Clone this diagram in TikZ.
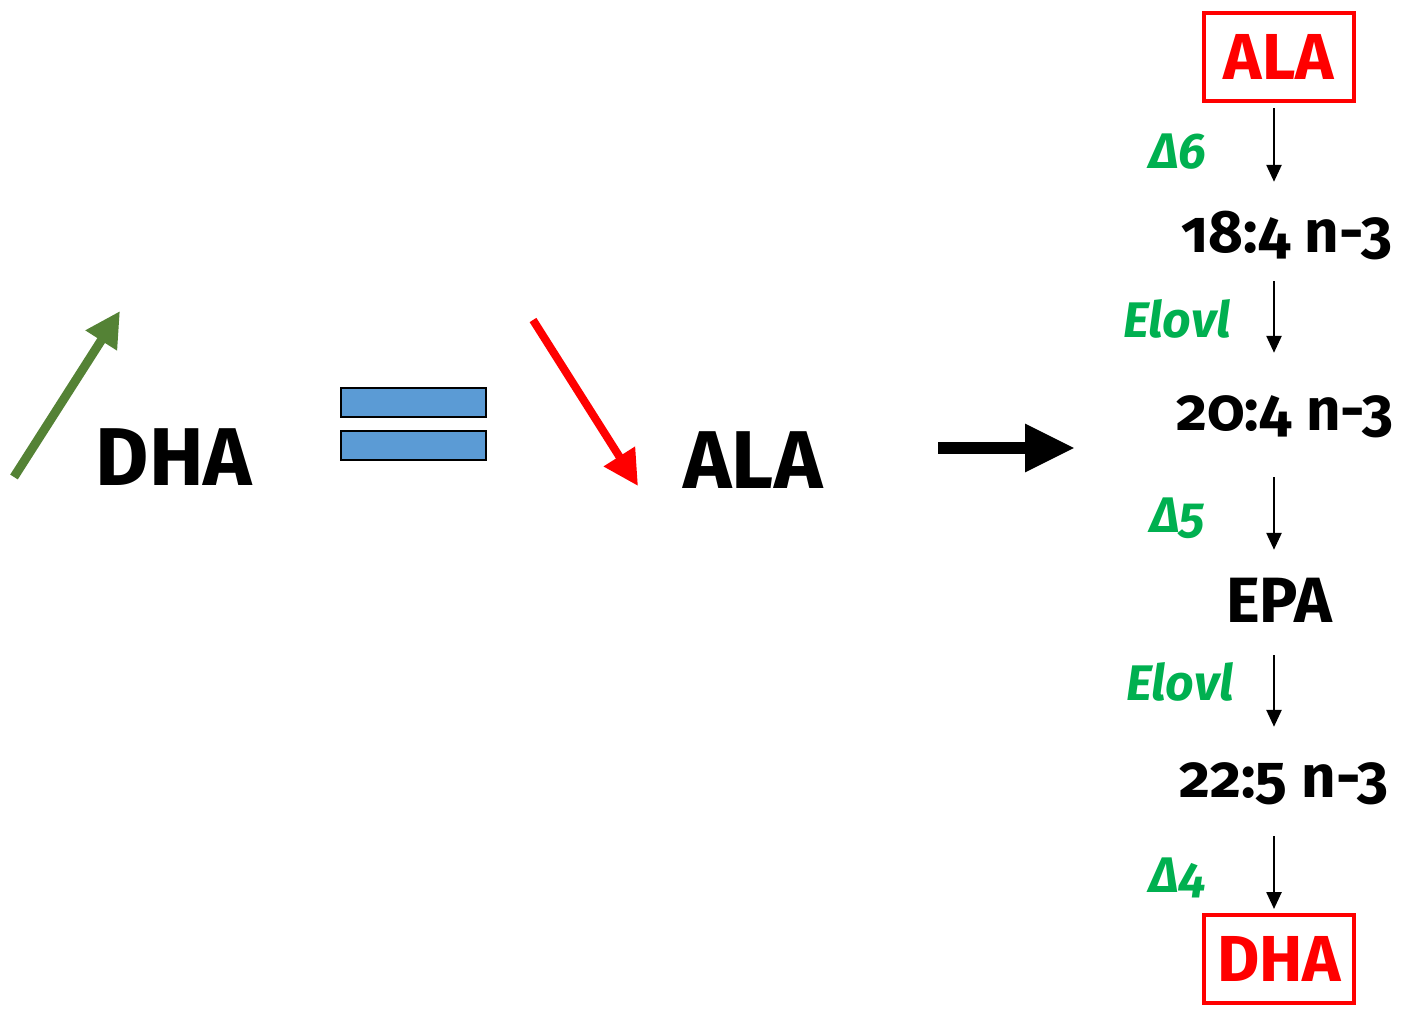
\documentclass[tikz,border=0pt]{standalone}
\usepackage{fontspec}
\setmainfont{Fira Sans}[Numbers=OldStyle]
\usetikzlibrary{arrows.meta}
\definecolor{leafgreen}{HTML}{548235}
\definecolor{enzgreen}{HTML}{00B050}
\definecolor{barblue}{HTML}{5B9BD5}
\tikzset{
  big/.style={font=\bfseries\fontsize{82}{90}\selectfont, anchor=base, inner sep=0pt},
  acid/.style={font=\bfseries\fontsize{60}{68}\selectfont, anchor=base, inner sep=0pt,
    text height=36pt, text depth=12pt},
  endbox/.style={draw=red, line width=4pt, text=red, font=\bfseries\fontsize{65}{72}\selectfont,
    minimum width=150pt, minimum height=88pt, inner sep=0pt},
  enzyme/.style={text=enzgreen, font=\bfseries\itshape\fontsize{50}{58}\selectfont,
    anchor=base, inner sep=0pt},
  flow/.style={-{Triangle[length=17pt,width=15pt]}, line width=2.5pt},
  bar/.style={draw=black, line width=2pt, fill=barblue},
}
\begin{document}
\begin{tikzpicture}[x=1pt,y=-1pt]
  \useasboundingbox (0,0) rectangle (1408,1010);
  % left: DHA up, ALA down
  \coordinate (up0) at (14,477);
  \coordinate (up1) at (120,311);
  \draw[leafgreen, line width=9pt, -{Triangle[length=35pt,width=35pt]}] (up0) -- (up1);
  \node[big] (dhaleft) at (174,485) {DHA};
  \draw[bar] (341,388) rectangle (486,417);
  \draw[bar] (341,431) rectangle (486,460);
  \coordinate (down0) at (533,320);
  \coordinate (down1) at (638,486);
  \draw[red, line width=8pt, -{Triangle[length=35pt,width=35pt]}] (down0) -- (down1);
  \node[big] (alaleft) at (753,488) {ALA};
  \coordinate (go0) at (938,448);
  \coordinate (go1) at (1075,448);
  \draw[line width=12pt, -{Triangle[length=50pt,width=45pt]}] (go0) -- (go1);

  % right: n-3 pathway
  \coordinate (axis) at (1274,0);
  \node[endbox] (ala) at (1279,57) {ALA};
  \node[acid] (c184) at (1287,252) {18:4 n-3};
  \node[acid] (c204) at (1285,430) {20:4 n-3};
  \node[acid, font=\bfseries\fontsize{64}{70}\selectfont] (epa) at (1279,622) {EPA};
  \node[acid] (c225) at (1284,797) {22:5 n-3};
  \node[endbox] (dha) at (1279,959) {DHA};
  \foreach \fa/\fb/\sa/\sb in {ala/c184/5/34, c184/c204/17/41, c204/epa/35/36,
      epa/c225/21/34, c225/dha/27/4}
    \draw[flow, shorten <=\sa pt, shorten >=\sb pt] (\fa.south -| axis) -- (\fb.north -| axis);

  \node[enzyme] (d6) at (1178,168) {Δ6};
  \node[enzyme] (elovla) at (1177,337) {Elovl};
  \node[enzyme] (d5) at (1178,532) {Δ5};
  \node[enzyme] (elovlb) at (1180,700) {Elovl};
  \node[enzyme] (d4) at (1178,892) {Δ4};
\end{tikzpicture}
\end{document}
